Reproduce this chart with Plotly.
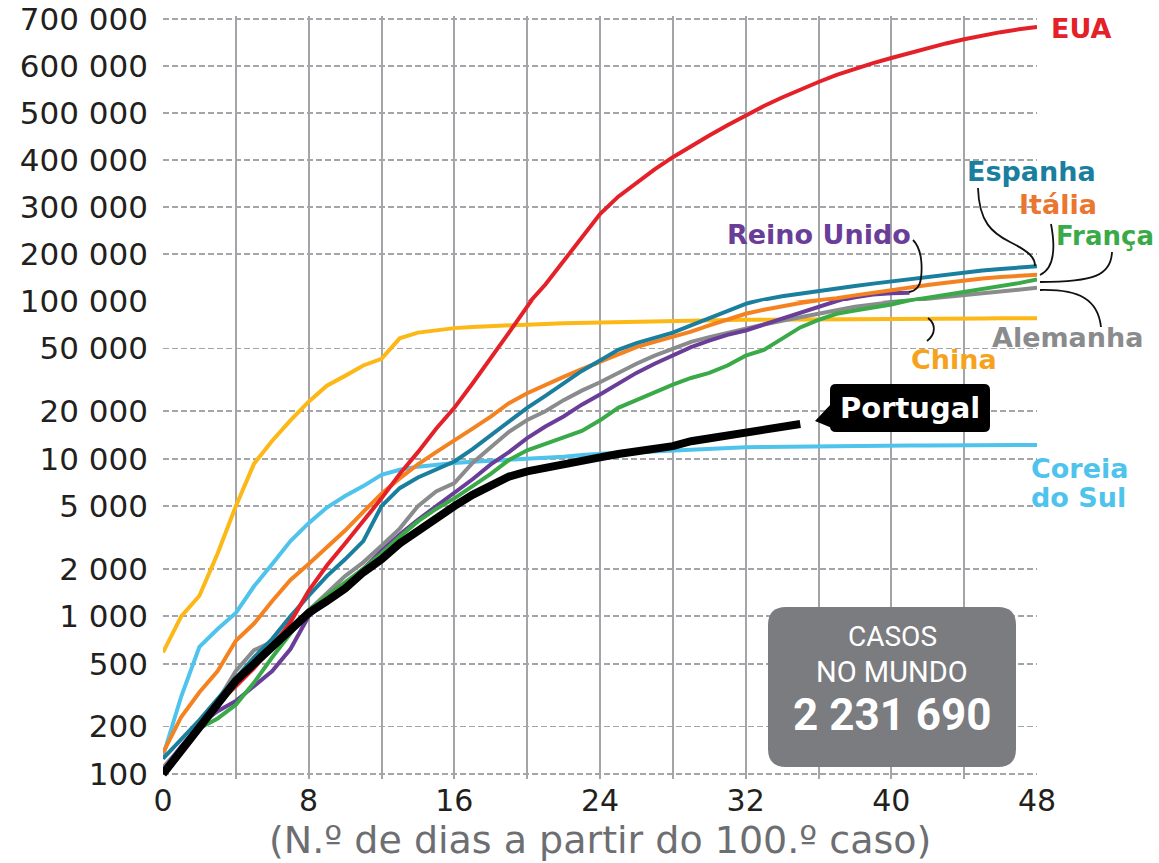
import plotly.graph_objects as go

# ---------------- data (cases since 100th case) ----------------
days = list(range(0, 49))
days_uk = list(range(0, 42))
days_pt = list(range(0, 36))

eua = [100, 140, 205, 280, 360, 470, 640, 920, 1450, 2100, 2900, 4000, 5600, 8000,
       11000, 15500, 21000, 30000, 43000, 63000, 92000, 135000, 185000, 238000, 285000,
       322000, 352000, 380000, 406000, 430000, 452000, 474000, 495000, 515000, 533000,
       550000, 566000, 581000, 594000, 606000, 617000, 628000, 638000, 648000, 657000,
       665000, 672000, 678000, 683000]
espanha = [125, 165, 220, 300, 410, 550, 720, 1000, 1350, 1800, 2300, 3000, 5000, 6500,
           7600, 8600, 9600, 11500, 14000, 17000, 21000, 25000, 30000, 36000, 42000, 49000,
           54000, 58000, 63000, 70000, 78000, 87000, 96000, 103000, 110000, 116000, 122000,
           127000, 132000, 137000, 142000, 147000, 152000, 156000, 161000, 165000, 168000,
           171000, 174000]
italia = [136, 230, 330, 450, 700, 900, 1250, 1700, 2150, 2750, 3500, 4600, 6000, 7500,
          9200, 11000, 13000, 15500, 18500, 22500, 26000, 29500, 33000, 37000, 41000, 46000,
          51000, 55000, 59000, 64000, 70000, 76000, 83000, 88000, 93000, 97000, 101000,
          106000, 112000, 118000, 123000, 129000, 134000, 139000, 144000, 148000, 151000,
          154000, 156000]
franca = [105, 140, 195, 225, 275, 380, 550, 780, 1100, 1350, 1650, 2000, 2500, 3200,
          4000, 4800, 5600, 6700, 8000, 9800, 11300, 12400, 13700, 15000, 17500, 21000,
          23500, 26500, 29500, 32500, 35000, 39000, 45000, 49000, 58000, 68000, 76000, 83000,
          87000, 91000, 95000, 101000, 107000, 113000, 119000, 125000, 131000, 138000, 146000]
reino_unido = [105, 150, 205, 250, 290, 360, 450, 620, 1000, 1270, 1600, 2000, 2600, 3300,
               4100, 5000, 6000, 7400, 9200, 11000, 13500, 16000, 18500, 22000, 25500, 30000,
               35000, 40000, 45000, 51000, 56000, 61000, 65000, 71000, 77000, 84000, 92000,
               100000, 108000, 114000, 116500, 117500]
alemanha = [110, 150, 200, 290, 450, 610, 690, 850, 1100, 1400, 1800, 2200, 2800, 3600,
            5000, 6200, 7000, 9400, 11800, 14800, 17600, 20000, 23500, 27000, 30500, 35000,
            40000, 45000, 50000, 55000, 59000, 63000, 67000, 71000, 75000, 79000, 84000,
            88000, 92000, 95000, 98000, 101000, 105000, 109000, 113000, 117000, 121000,
            125000, 128000]
china = [590, 1000, 1350, 2500, 5000, 9300, 13000, 17500, 23000, 29000, 33500, 39000, 43000,
         58000, 63000, 65500, 67300, 68500, 69500, 70300, 71000, 71600, 72200, 72700, 73200,
         73600, 74000, 74400, 74800, 75100, 75400, 75700, 76000, 76200, 76400, 76600, 76700,
         76800, 76900, 77000, 77100, 77200, 77300, 77400, 77500, 77500, 77600, 77700, 77700]
coreia = [130, 310, 640, 830, 1050, 1550, 2150, 3000, 3900, 4900, 5800, 6700, 7900, 8500,
          8900, 9200, 9400, 9550, 9700, 9800, 9900, 10100, 10300, 10550, 10800, 10900, 11000,
          11150, 11300, 11400, 11550, 11650, 11800, 11850, 11900, 11950, 12000, 12000, 12050,
          12050, 12100, 12100, 12100, 12150, 12150, 12150, 12200, 12200, 12200]
portugal = [100, 140, 200, 270, 390, 500, 640, 820, 1050, 1250, 1500, 1900, 2300, 2900,
            3500, 4200, 5000, 5900, 6800, 7700, 8300, 8800, 9300, 9800, 10200, 10700, 11100,
            11500, 12000, 12900, 13500, 14200, 14800, 15300, 15800, 16600]

y_ticks_log = [100, 200, 500, 1000, 2000, 5000, 10000, 20000, 50000, 100000]
y_ticks_lin = [200000, 300000, 400000, 500000, 600000, 700000]
world_cases = "2 231 690"

# ---------------- layout geometry ----------------
W, H = 1159, 863
L, R, T, B = 163, 1037, 16, 779          # plot area in px
Y_SPLIT_PX = 301                          # pixel row of 100 000 (log -> linear)
DEC_PX = (774 - Y_SPLIT_PX) / 3.0         # px per decade in lower (log) part
LOG_LO = 2 - (B - 774) / DEC_PX
SPLIT_DOM = (B - Y_SPLIT_PX) / (B - T)
PX_PER_100K = (Y_SPLIT_PX - 19) / 6.0
LIN_HI = 100000 + (Y_SPLIT_PX - T) / PX_PER_100K * 100000


def fx(x):
    return (x - L) / (R - L)


def fy(y):
    return (B - y) / (B - T)


def pt(x, y):
    return f"{fx(x):.5f},{fy(y):.5f}"


def rrect(x0, y0, x1, y1, r):
    return (f"M{pt(x0 + r, y0)} L{pt(x1 - r, y0)} Q{pt(x1, y0)} {pt(x1, y0 + r)} "
            f"L{pt(x1, y1 - r)} Q{pt(x1, y1)} {pt(x1 - r, y1)} L{pt(x0 + r, y1)} "
            f"Q{pt(x0, y1)} {pt(x0, y1 - r)} L{pt(x0, y0 + r)} Q{pt(x0, y0)} {pt(x0 + r, y0)} Z")


GRID = "#a3a5a8"
TXT = "#231f20"
C_EUA = "#e42128"
C_ESP = "#1a7e9e"
C_ITA = "#f58220"
C_FRA = "#3aaa49"
C_UK = "#6a3e98"
C_DE = "#8a8b8d"
C_CN = "#fcb817"
C_KR = "#4ec3ec"

LW = 4.0
series = [
    (days, china, C_CN, LW),
    (days, coreia, C_KR, LW),
    (days, alemanha, C_DE, LW),
    (days_uk, reino_unido, C_UK, LW),
    (days, franca, C_FRA, LW),
    (days, italia, C_ITA, LW),
    (days, espanha, C_ESP, LW),
    (days, eua, C_EUA, LW),
    (days_pt, portugal, "#000000", 8),
]

fig = go.Figure()
for xs, ys, col, w in series:
    for yax in ("y", "y2"):
        fig.add_trace(go.Scatter(x=xs, y=ys, mode="lines", xaxis="x", yaxis=yax,
                                 line=dict(color=col, width=w),
                                 hoverinfo="skip", showlegend=False))

ytickfont = dict(family="DejaVu Sans", size=31, color=TXT)
xtickfont = dict(family="DejaVu Sans", size=30, color=TXT)
common_y = dict(showgrid=True, gridcolor=GRID, gridwidth=1.8, griddash="6px,3px",
                zeroline=False, showline=False, ticks="", tickformat=",d",
                tickfont=ytickfont, ticklabelstandoff=14, anchor="x", fixedrange=True,
                automargin=False)

fig.update_layout(
    width=W, height=H,
    margin=dict(l=L, r=W - R, t=T, b=H - B, pad=0, autoexpand=False),
    paper_bgcolor="white", plot_bgcolor="white",
    separators=". ",
    showlegend=False,
    xaxis=dict(range=[0, 48], tick0=0, dtick=8, showgrid=True, gridcolor=GRID, gridwidth=2,
               zeroline=False, showline=False, ticks="", tickfont=xtickfont,
               ticklabelstandoff=1, anchor="y", fixedrange=True, automargin=False,
               minor=dict(tick0=0, dtick=4, showgrid=True, gridcolor=GRID, gridwidth=2)),
    yaxis=dict(type="log", range=[LOG_LO, 5], domain=[0, SPLIT_DOM],
               tickvals=y_ticks_log, **common_y),
    yaxis2=dict(type="linear", range=[100000, LIN_HI], domain=[SPLIT_DOM, 1],
                tickvals=y_ticks_lin, **common_y),
)

shapes = []
# leader lines
leaders = [
    [(978, 188), "C", (979, 222), (992, 233), (1010, 242), "C", (1030, 252), (1035, 258), (1035, 266)],
    [(1051, 224), "C", (1055, 245), (1055, 268), (1040, 275)],
    [(1112, 252), "C", (1111, 275), (1095, 282), (1040, 282)],
    [(1040, 290), "C", (1080, 289), (1098, 300), (1101, 327)],
    [(913, 240), "C", (923, 250), (922, 270), (921, 278), "C", (920, 288), (915, 291), (909, 292)],
    [(928, 318), "C", (936, 324), (936, 334), (927, 341)],
]
for ld in leaders:
    d = f"M{pt(*ld[0])}"
    for item in ld[1:]:
        if isinstance(item, str):
            d += f" {item}"
        else:
            d += f" {pt(*item)}"
    shapes.append(dict(type="path", path=d, xref="paper", yref="paper",
                       line=dict(color="#111111", width=1.8), layer="above"))

# Portugal label box with pointer
shapes.append(dict(type="path", path=rrect(830, 384, 990, 432, 6), xref="paper", yref="paper",
                   fillcolor="#000000", line=dict(width=0), layer="above"))
shapes.append(dict(type="path",
                   path=f"M{pt(832, 403)} L{pt(815, 421)} L{pt(832, 428)} Z",
                   xref="paper", yref="paper", fillcolor="#000000",
                   line=dict(width=0), layer="above"))
# world cases box
shapes.append(dict(type="path", path=rrect(768, 607, 1016, 767, 18), xref="paper", yref="paper",
                   fillcolor="#7b7c7f", line=dict(width=0), layer="above"))
fig.update_layout(shapes=shapes)

LBL = "DejaVu Sans"


def label(text, x, y, color, size=27, family=LBL, xanchor="center", bold=True):
    t = f"<b>{text}</b>" if bold else text
    fig.add_annotation(text=t, x=fx(x), y=fy(y), xref="paper", yref="paper",
                       xanchor=xanchor, yanchor="middle", showarrow=False, borderpad=0,
                       font=dict(family=family, size=size, color=color))


label("EUA", 1081, 29, C_EUA)
label("Espanha", 1031, 171, C_ESP)
label("Itália", 1058, 205, "#ea7630")
label("França", 1105, 236, C_FRA, size=26)
label("Reino Unido", 819, 234, C_UK)
label("Alemanha", 1067, 337, C_DE)
label("China", 954, 359, "#f6a21c")
label("Coreia", 1030, 468, C_KR, xanchor="left")
label("do Sul", 1030, 498, C_KR, xanchor="left")
label("Portugal", 910, 408, "#ffffff", size=29)
label("CASOS", 892, 636, "#ffffff", size=28, family="Roboto", bold=False)
label("NO MUNDO", 892, 672, "#ffffff", size=29, family="Roboto", bold=False)
label(world_cases, 892, 715, "#ffffff", size=44, family="Roboto")
label("(N.º de dias a partir do 100.º caso)", 600, 840.5, "#6d6e71", size=38,
      family="DejaVu Sans", bold=False)

fig.write_html("out.html",
               config={"displayModeBar": False, "staticPlot": True},
               post_script="document.body.style.margin='0px';"
                           "document.body.style.overflow='hidden';")
